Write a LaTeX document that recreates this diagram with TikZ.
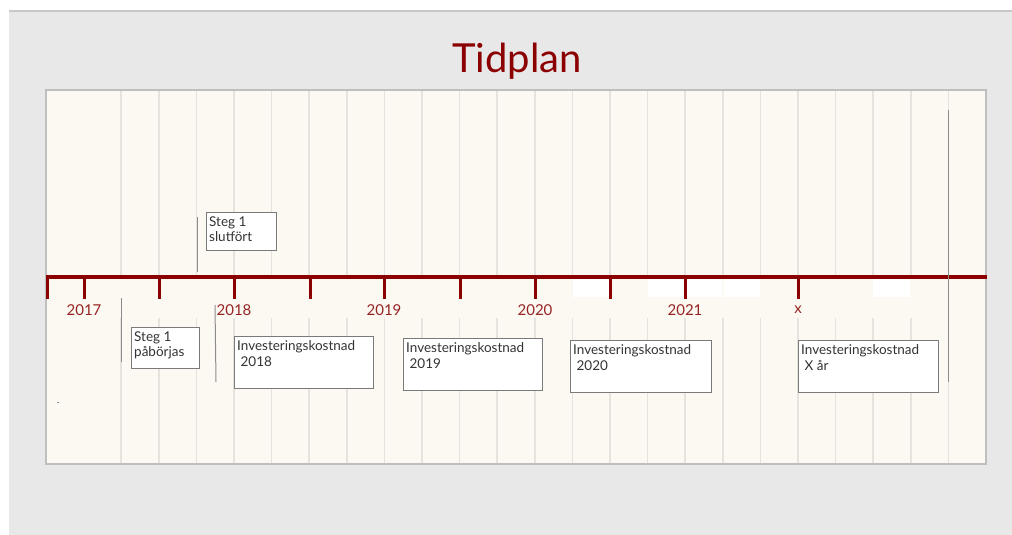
\documentclass[tikz,border=0pt]{standalone}
\usepackage{fontspec}
\setmainfont{Lato}
\usetikzlibrary{positioning}

\definecolor{bggray}{HTML}{E8E8E8}
\definecolor{rulegray}{HTML}{C8C8C8}
\definecolor{panelfill}{HTML}{FCF9F2}
\definecolor{gridcolor}{HTML}{E6E3DE}
\definecolor{panelborder}{HTML}{BFBFBF}
\definecolor{axisred}{HTML}{8B0000}
\definecolor{yearred}{HTML}{962424}
\definecolor{boxgray}{HTML}{7A7A7A}
\definecolor{leadgray}{HTML}{8C8C8C}
\definecolor{textgray}{HTML}{333333}

\begin{document}
\begin{tikzpicture}[
    x=1pt, y=-1pt,
    gridline/.style={gridcolor, line width=1.5pt},
    majortick/.style={axisred, line width=3pt},
    year/.style={font=\fontsize{15}{15}\selectfont, text=yearred},
    box/.style={draw=boxgray, fill=white, line width=1pt, anchor=north west, inner sep=0pt},
    boxtext/.style={anchor=north west, align=left, inner xsep=3pt, inner ysep=4.5pt,
        font=\fontsize{13.5}{15.5}\selectfont, text=textgray},
    lead/.style={leadgray, line width=1pt},
]
\useasboundingbox (0, 0) rectangle (1012, 535);

% Background and panel
\fill[bggray] (9, 11) rectangle (1012, 535);
\draw[rulegray, line width=2pt] (9, 11) -- (1012, 11);
\fill[panelfill] (46, 90) rectangle (986, 464);

% Grid
\foreach \k in {2,...,24} {
    \draw[gridline] (46+37.6*\k, 90) -- (46+37.6*\k, 464);
}

% Label band
\fill[panelfill] (47, 279) rectangle (985, 318);
\foreach \a/\b in {573/609, 648/722, 724/760, 873/910} {
    \fill[white] (\a, 279) rectangle (\b, 297);
}
\draw[panelborder, line width=1.5pt] (46, 90) rectangle (986, 464);

% Title
\node[font=\fontsize{40}{40}\selectfont, text=axisred] (title) at (517, 61) {Tidplan};

% Axis
\coordinate (axisL) at (46, 277);
\coordinate (axisR) at (987, 277);
\draw[axisred, line width=3.5pt] (axisL) -- (axisR);
\foreach \x in {47, 84, 159, 234, 310, 384, 460, 535, 610, 685, 798} {
    \draw[majortick] (\x, 277) -- (\x, 299);
}

% Years
\foreach \x/\t in {84/2017, 234/2018, 384/2019, 535/2020, 685/2021, 798/x} {
    \node[year] (y\t) at (\x, 310) {\t};
}

% Milestones
\node[box, minimum width=70, minimum height=38,
    label={[boxtext]north west:{Steg 1\\slutfört}}] (slut) at (206, 212) {};
\node[box, minimum width=68, minimum height=41,
    label={[boxtext]north west:{Steg 1\\påbörjas}}] (start) at (131, 327) {};

% Investments
\node[box, minimum width=139, minimum height=52,
    label={[boxtext]north west:{Investeringskostnad\\\ 2018}}] (inv18) at (234, 336) {};
\node[box, minimum width=139, minimum height=52,
    label={[boxtext]north west:{Investeringskostnad\\\ 2019}}] (inv19) at (403, 338) {};
\node[box, minimum width=141, minimum height=52,
    label={[boxtext]north west:{Investeringskostnad\\\ 2020}}] (inv20) at (570, 340) {};
\node[box, minimum width=140, minimum height=52,
    label={[boxtext]north west:{Investeringskostnad\\\ X år}}] (invx) at (798, 340) {};

% Leader lines
\coordinate (slutA) at (197, 217);
\coordinate (slutB) at (197, 272);
\coordinate (startA) at (121, 298);
\coordinate (startB) at (121, 362);
\coordinate (inv18A) at (215, 305);
\coordinate (inv18B) at (216, 382);
\coordinate (endA) at (948, 110);
\coordinate (endB) at (948, 382);
\draw[lead] (slutA) -- (slutB);
\draw[lead] (startA) -- (startB);
\draw[lead] (inv18A) -- (inv18B);
\draw[lead] (endA) -- (endB);
\draw[leadgray, line width=0.8pt] (57, 402) -- (59, 402);

\end{tikzpicture}
\end{document}
